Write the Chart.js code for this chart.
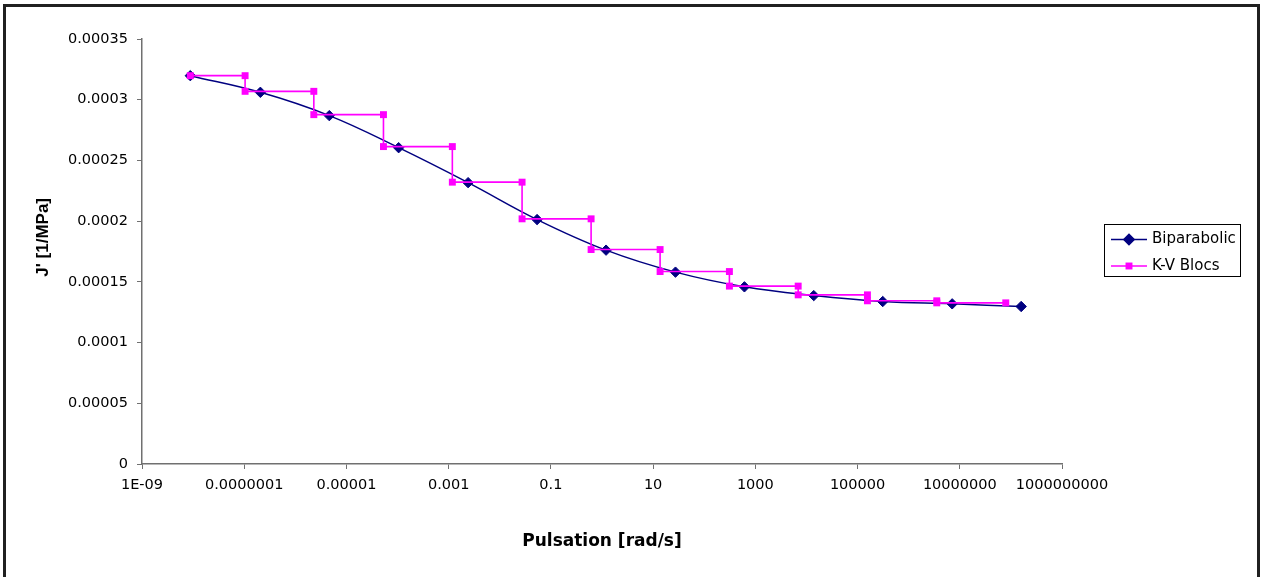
<!DOCTYPE html>
<html>
<head>
<meta charset="utf-8">
<script src="https://cdn.jsdelivr.net/npm/chart.js@4"></script>
<style>
  html, body { margin:0; padding:0; background:#fff; }
  #wrap { width:1261px; height:577px; }
</style>
</head>
<body>
<div id="wrap"><canvas id="grafico" width="1261" height="577"></canvas></div>
<script>
// Biparabolic model (pulsation in rad/s, J' in 1/MPa)
let biOmega = [8.81e-9, 2.07e-7, 4.62e-6, 1.05e-4, 2.40e-3, 0.0537, 1.20, 27.4, 612, 1.39e4, 3.11e5, 7.10e6, 1.59e8];
let biJ = [3.198e-4, 3.061e-4, 2.869e-4, 2.605e-4, 2.317e-4, 2.013e-4, 1.761e-4, 1.580e-4, 1.459e-4, 1.387e-4, 1.338e-4, 1.319e-4, 1.297e-4];

// K-V blocs (step curve, corner points)
let kvOmega = [8.81e-9, 1.04e-7, 1.04e-7, 2.3e-6, 2.3e-6, 5.3e-5, 5.3e-5, 1.18e-3, 1.18e-3, 0.0273, 0.0273, 0.612, 0.612,
               13.7, 13.7, 311, 311, 6890, 6890, 1.56e5, 1.56e5, 3.55e6, 3.55e6, 7.94e7];
let kvJ = [3.198e-4, 3.198e-4, 3.069e-4, 3.069e-4, 2.877e-4, 2.877e-4, 2.614e-4, 2.614e-4, 2.321e-4, 2.321e-4, 2.019e-4, 2.019e-4,
           1.766e-4, 1.766e-4, 1.585e-4, 1.585e-4, 1.465e-4, 1.465e-4, 1.393e-4, 1.393e-4, 1.344e-4, 1.344e-4, 1.327e-4, 1.327e-4];

let xTicks = [1e-9, 1e-7, 1e-5, 1e-3, 0.1, 10, 1000, 1e5, 1e7, 1e9];
let xTickLabels = ["1E-09", "0.0000001", "0.00001", "0.001", "0.1", "10", "1000", "100000", "10000000", "1000000000"];
let yTicks = [0, 0.00005, 0.0001, 0.00015, 0.0002, 0.00025, 0.0003, 0.00035];
let yTickLabels = ["0", "0.00005", "0.0001", "0.00015", "0.0002", "0.00025", "0.0003", "0.00035"];

function pts(xs, ys){ return xs.map((x,i)=>({x:x, y:ys[i]})); }

// cadre noir + legende facon Excel
let cadre = {
  id: 'cadre',
  afterDraw(chart){
    let c = chart.ctx;
    c.save();
    c.strokeStyle = '#000'; c.lineWidth = 1;
    c.strokeRect(1104.5, 224.5, 136, 52);
    chart.data.datasets.forEach((ds, i)=>{
      let y = 239.5 + i*26.5;
      c.strokeStyle = ds.borderColor; c.lineWidth = 1.5;
      c.beginPath(); c.moveTo(1111, y); c.lineTo(1147, y); c.stroke();
      c.fillStyle = ds.pointBackgroundColor; c.strokeStyle = ds.pointBorderColor;
      Chart.helpers.drawPoint(c, {pointStyle: ds.pointStyle, radius: ds.pointRadius, borderWidth: ds.pointBorderWidth, rotation: 0}, 1129, y);
      c.fillStyle = '#000'; c.font = '15px "DejaVu Sans"'; c.textBaseline = 'middle'; c.textAlign = 'left';
      c.fillText(ds.label, 1152, y);
    });
    c.strokeStyle = '#202020'; c.lineWidth = 3;
    c.strokeRect(4.5, 5.5, 1254, 700);
    c.restore();
  }
};

let ctx = document.getElementById('grafico');
let chart = new Chart(ctx, {
  type: 'scatter',
  data: {
    datasets: [
      { label: 'Biparabolic', data: pts(biOmega, biJ), showLine: true,
        borderColor: '#000080', backgroundColor: '#000080', borderWidth: 1.5,
        pointStyle: 'rectRot', pointRadius: 5.2, pointBackgroundColor: '#000080',
        pointBorderColor: '#000080', pointBorderWidth: 1, tension: 0.4, order: 1 },
      { label: 'K-V Blocs', data: pts(kvOmega, kvJ), showLine: true,
        borderColor: '#FF00FF', backgroundColor: '#FF00FF', borderWidth: 1.6,
        pointStyle: 'rect', pointRadius: 4.9, pointBackgroundColor: '#FF00FF',
        pointBorderColor: '#FF00FF', pointBorderWidth: 0, tension: 0, order: 0 }
    ]
  },
  options: {
    responsive: false,
    animation: false,
    layout: { padding: { left: 0, top: 39, right: 199, bottom: 0 } },
    plugins: { legend: { display: false }, tooltip: { enabled: false } },
    scales: {
      x: {
        type: 'logarithmic', min: 1e-9, max: 1e9,
        afterBuildTicks: s => { s.ticks = xTicks.map(v => ({ value: v })); },
        afterFit: s => { s.height = 113; },
        grid: { drawOnChartArea: false, tickLength: 5, color: '#707070' },
        border: { color: '#707070', width: 1.5 },
        ticks: { autoSkip: false, maxRotation: 0, padding: 8, color: '#000',
                 font: { family: 'DejaVu Sans', size: 14.5 },
                 callback: (v, i) => xTickLabels[i] },
        title: { display: true, text: 'Pulsation [rad/s]', color: '#000',
                 font: { family: 'DejaVu Sans', size: 17, weight: 'bold' },
                 padding: { top: 0, bottom: 25 } }
      },
      y: {
        min: 0, max: 0.00035,
        afterBuildTicks: s => { s.ticks = yTicks.map(v => ({ value: v })); },
        afterFit: s => { s.width = 142; },
        grid: { drawOnChartArea: false, tickLength: 5, color: '#707070' },
        border: { color: '#707070', width: 1.5 },
        ticks: { padding: 9, color: '#000',
                 font: { family: 'DejaVu Sans', size: 14.5 },
                 callback: (v, i) => yTickLabels[i] },
        title: { display: true, text: "      J' [1/MPa]", color: '#000',
                 font: { family: 'Liberation Sans', size: 17, weight: 'bold' },
                 padding: { top: 33, bottom: 0 } }
      }
    }
  },
  plugins: [cadre]
});
</script>
</body>
</html>
